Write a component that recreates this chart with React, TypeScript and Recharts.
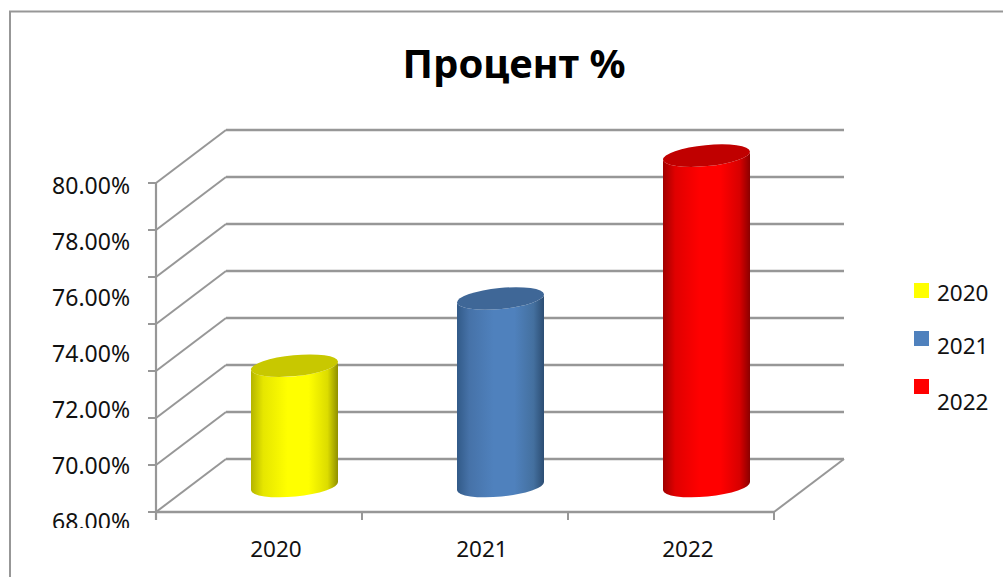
import { BarChart, Bar, CartesianGrid, XAxis, YAxis } from "recharts";

const categories = ["2020", "2021", "2022"];
const percentValues = [72.7, 75.1, 80.2];
const percentTicks = [68, 70, 72, 74, 76, 78, 80];
const gridLevels = [0, 1, 2, 3, 4, 5, 6, 7];

const data = categories.map((name, i) => ({ name, value: percentValues[i] }));

const GREY = "#979797";
const FONT = "'Noto Sans', sans-serif";

const SKINS = [
  { id: "yellow", edgeL: "#b4b400", soft: "#e6e600", mid: "#ffff00", softR: "#dcdc00", edgeR: "#8f8f00", top: "#c8c800", key: "#ffff00" },
  { id: "blue", edgeL: "#325a88", soft: "#4672a8", mid: "#4f81bd", softR: "#44709f", edgeR: "#2c4d73", top: "#3f6797", key: "#4f81bd" },
  { id: "red", edgeL: "#a00000", soft: "#e00000", mid: "#ff0000", softR: "#d80000", edgeR: "#8a0000", top: "#c00000", key: "#ff0000" },
];

// fake 3D: how far the back wall sits from the front plane
const DEPTH_X = 70;
const DEPTH_Y = 53;
const LEFT = 156;
const RIGHT = 774;
const BAND = (RIGHT - LEFT) / categories.length;
const FLOOR = 512;
const PLOT_TOP = 176;
const PLOT_BOTTOM = 523;

const Cylinder = (props: any) => {
  const { x, y, width, height, index } = props;
  const skin = SKINS[index];
  const cx = x + width / 2 + DEPTH_X / 2;
  const topY = y - DEPTH_Y / 2 + 0.8;
  const botY = y + height - 37;
  const rx = width / 2;
  const ry = 10.5;
  const dy = 4.2;
  const side =
    `M${cx - rx},${topY + dy} L${cx - rx},${botY + dy} ` +
    `A${rx},${ry} -5.5 0 0 ${cx + rx},${botY - dy} ` +
    `L${cx + rx},${topY - dy} ` +
    `A${rx},${ry} -5.5 0 1 ${cx - rx},${topY + dy} Z`;
  return (
    <g>
      <path d={side} fill={`url(#side-${skin.id})`} />
      <ellipse cx={cx} cy={topY} rx={rx + 0.2} ry={ry} fill={skin.top} transform={`rotate(-5.5 ${cx} ${topY})`} />
    </g>
  );
};

const PercentTick = ({ y, payload }: any) => (
  <text
    x={130}
    y={y - 2}
    textAnchor="end"
    dominantBaseline="central"
    fontFamily={FONT}
    fontSize={23}
    fill="#111"
    clipPath="url(#labelClip)"
  >
    {payload.value.toFixed(2)}%
  </text>
);

// tick mark and the piece of the left wall under it
const GridTick = ({ y, payload }: any) => {
  const level = payload.value;
  return (
    <g stroke={GREY} fill="none">
      <line x1={LEFT - 8} x2={LEFT} y1={y} y2={y} strokeWidth={2} />
      {level > 0 && <line x1={LEFT} x2={LEFT} y1={y} y2={y + 47} strokeWidth={2.2} />}
      {level === 0 && <line x1={LEFT} x2={LEFT} y1={y} y2={y + 8} strokeWidth={2.2} />}
    </g>
  );
};

// one gridline bent round the side wall and along the back wall
const WallLine = ({ y1 }: any) => {
  // the grid also hands us the plot's own top and bottom edges
  if (Math.abs(y1 - PLOT_TOP) < 1 || Math.abs(y1 - PLOT_BOTTOM) < 1) return null;
  return (
    <g stroke={GREY} fill="none">
      <line x1={LEFT} y1={y1} x2={LEFT + DEPTH_X} y2={y1 - DEPTH_Y} strokeWidth={2} />
      <line x1={LEFT + DEPTH_X} y1={y1 - DEPTH_Y} x2={RIGHT + DEPTH_X} y2={y1 - DEPTH_Y} strokeWidth={2.4} />
      {Math.abs(y1 - FLOOR) < 1 && <line x1={RIGHT} y1={y1} x2={RIGHT + DEPTH_X} y2={y1 - DEPTH_Y} strokeWidth={2} />}
    </g>
  );
};

const CategoryTick = ({ x, payload, index }: any) => (
  <g>
    <line x1={x - BAND / 2} x2={x + BAND / 2} y1={FLOOR} y2={FLOOR} stroke={GREY} strokeWidth={2.4} />
    <line x1={x + BAND / 2} x2={x + BAND / 2} y1={FLOOR} y2={FLOOR + 8} stroke={GREY} strokeWidth={2} />
    {index === 0 && <line x1={x - BAND / 2} x2={x - BAND / 2} y1={FLOOR} y2={FLOOR + 8} stroke={GREY} strokeWidth={2} />}
    <text x={x + 17} y={548} textAnchor="middle" dominantBaseline="central" fontFamily={FONT} fontSize={22.5} fill="#111">
      {payload.value}
    </text>
  </g>
);

const legendY = [290, 338, 386];
const legendTextY = [292, 345, 401];

export default function App() {
  return (
    <div style={{ position: "absolute", left: 0, top: 0, width: 1003, height: 577, background: "#fff" }}>
      <BarChart
        width={1003}
        height={577}
        data={data}
        barSize={87}
        margin={{ top: PLOT_TOP, right: 229, bottom: 0, left: 0 }}
      >
        <defs>
          <clipPath id="labelClip">
            <rect x={0} y={0} width={160} height={528} />
          </clipPath>
          {SKINS.map((s) => (
            <linearGradient key={s.id} id={`side-${s.id}`} x1="0" x2="1" y1="0" y2="0">
              <stop offset="0" stopColor={s.edgeL} />
              <stop offset="0.14" stopColor={s.soft} />
              <stop offset="0.42" stopColor={s.mid} />
              <stop offset="0.66" stopColor={s.mid} />
              <stop offset="0.88" stopColor={s.softR} />
              <stop offset="1" stopColor={s.edgeR} />
            </linearGradient>
          ))}
        </defs>
        <path d="M10,577 L10,11.5 L1003,11.5" fill="none" stroke={GREY} strokeWidth={2} />
        <text x={514} y={78} textAnchor="middle" fontFamily={FONT} fontWeight={700} fontSize={40} fill="#000">
          Процент %
        </text>
        <CartesianGrid yAxisId="grid" vertical={false} horizontal={(p: any) => <WallLine key={p.index} {...p} />} />
        <XAxis
          dataKey="name"
          height={54}
          axisLine={false}
          tickLine={false}
          interval={0}
          tick={<CategoryTick />}
        />
        <YAxis
          yAxisId="value"
          width={155}
          domain={[68, 80.39]}
          ticks={percentTicks}
          interval={0}
          axisLine={false}
          tickLine={false}
          tick={<PercentTick />}
        />
        <YAxis
          yAxisId="grid"
          width={1}
          domain={[-0.234, 7.149]}
          allowDataOverflow
          ticks={gridLevels}
          interval={0}
          axisLine={false}
          tickLine={false}
          tick={<GridTick />}
        />
        <Bar yAxisId="value" dataKey="value" isAnimationActive={false} shape={<Cylinder />} />
        {categories.map((c, i) => (
          <g key={c}>
            <rect x={914} y={legendY[i] - 7} width={15} height={15} fill={SKINS[i].key} />
            <text x={937} y={legendTextY[i]} dominantBaseline="central" fontFamily={FONT} fontSize={22.5} fill="#111">
              {c}
            </text>
          </g>
        ))}
      </BarChart>
    </div>
  );
}
